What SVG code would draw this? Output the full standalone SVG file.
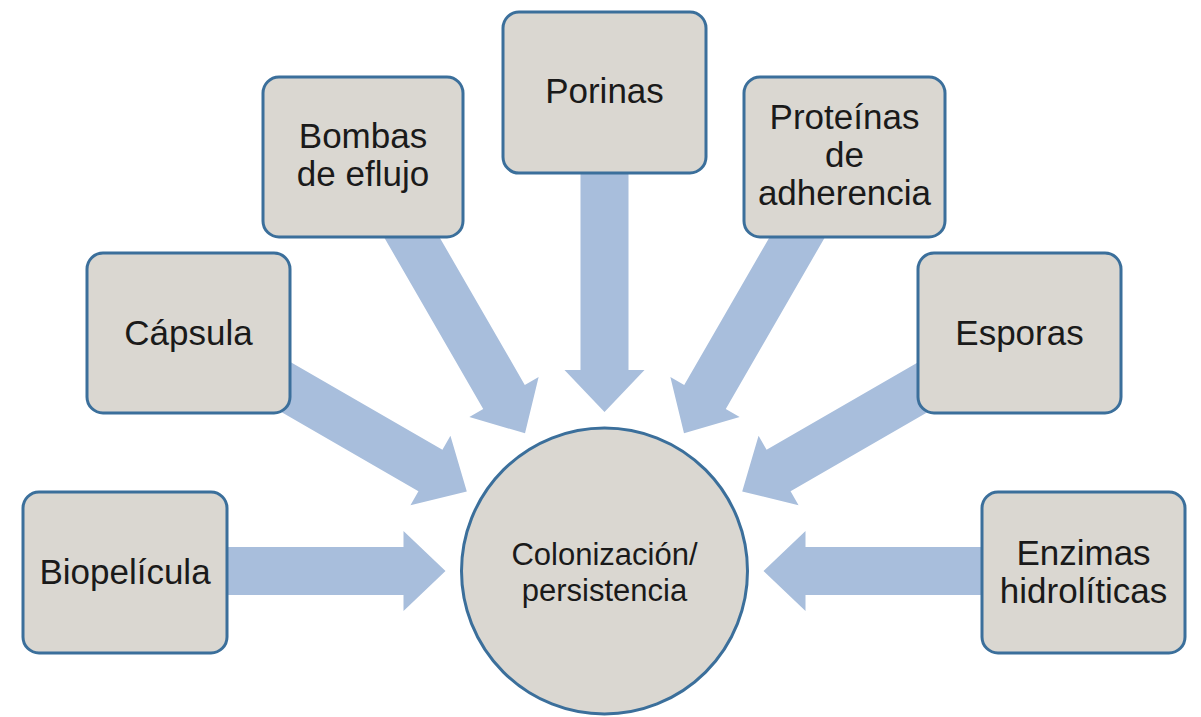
<svg xmlns="http://www.w3.org/2000/svg" width="1201" height="717" viewBox="0 0 1201 717">
<style>
.bg{fill:#ffffff}
.arrow{fill:#a8bedc}
.box{fill:#dad7d1;stroke:#3b6f9b;stroke-width:3}
.lbl{font-family:"Liberation Sans",Arial,sans-serif;font-size:35px;fill:#1a1a1a;text-anchor:middle}
.clbl{font-family:"Liberation Sans",Arial,sans-serif;font-size:31px;fill:#1a1a1a;text-anchor:middle}
</style>
<defs>
<polygon id="arr" points="159,0 201,-40 201,-24 440,-24 440,24 201,24 201,40"/>
</defs>
<rect class="bg" x="0" y="0" width="1201" height="717"/>
<g id="connectors">
<use href="#arr" class="arrow" transform="translate(604.5,571) rotate(180)"/>
<use href="#arr" class="arrow" transform="translate(604.5,571) rotate(210)"/>
<use href="#arr" class="arrow" transform="translate(604.5,571) rotate(240)"/>
<use href="#arr" class="arrow" transform="translate(604.5,571) rotate(270)"/>
<use href="#arr" class="arrow" transform="translate(604.5,571) rotate(300)"/>
<use href="#arr" class="arrow" transform="translate(604.5,571) rotate(330)"/>
<use href="#arr" class="arrow" transform="translate(604.5,571) rotate(0)"/>
</g>
<g id="node-biopelicula">
<rect class="box" x="23" y="492" width="204" height="161" rx="16"/>
<text class="lbl" x="125" y="584">Biopelícula</text>
</g>
<g id="node-capsula">
<rect class="box" x="87" y="253" width="203" height="160" rx="16"/>
<text class="lbl" x="188.5" y="345">Cápsula</text>
</g>
<g id="node-bombas">
<rect class="box" x="263" y="77" width="200" height="160" rx="16"/>
<text class="lbl" x="363" y="148">Bombas</text>
<text class="lbl" x="363" y="186">de eflujo</text>
</g>
<g id="node-porinas">
<rect class="box" x="503" y="12" width="203" height="161" rx="16"/>
<text class="lbl" x="604.5" y="103">Porinas</text>
</g>
<g id="node-proteinas">
<rect class="box" x="744" y="77" width="201" height="160" rx="16"/>
<text class="lbl" x="844.5" y="129">Proteínas</text>
<text class="lbl" x="844.5" y="167">de</text>
<text class="lbl" x="844.5" y="205">adherencia</text>
</g>
<g id="node-esporas">
<rect class="box" x="918" y="253" width="203" height="160" rx="16"/>
<text class="lbl" x="1019.5" y="345">Esporas</text>
</g>
<g id="node-enzimas">
<rect class="box" x="982" y="492" width="203" height="161" rx="16"/>
<text class="lbl" x="1083.5" y="565">Enzimas</text>
<text class="lbl" x="1083.5" y="603">hidrolíticas</text>
</g>
<g id="node-colonizacion">
<circle class="box" cx="604.5" cy="571" r="143"/>
<text class="clbl" x="604.5" y="565">Colonización/</text>
<text class="clbl" x="604.5" y="601">persistencia</text>
</g>
</svg>
